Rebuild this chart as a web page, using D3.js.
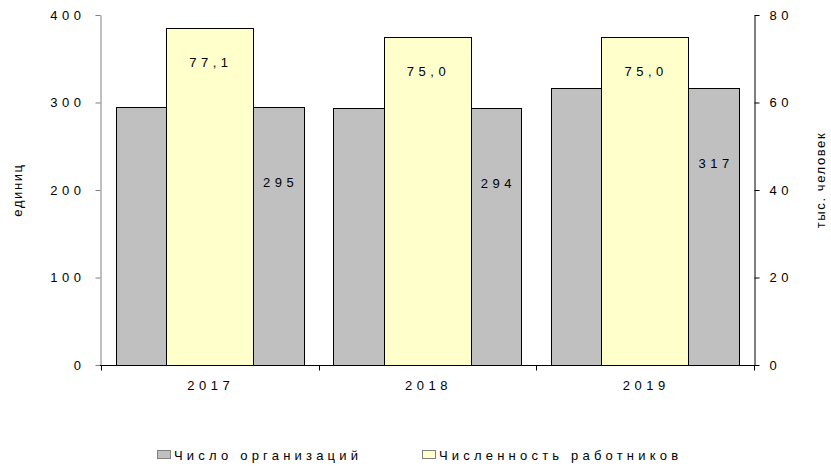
<!DOCTYPE html>
<html lang="ru">
<head>
    <meta charset="UTF-8">
    <title>Организации и работники</title>
    <script src="https://d3js.org/d3.v7.min.js"></script>
    <style>
        body{
            margin: 0;
            background: #ffffff;
        }
        #canvas{
            display: block;
            font-family: Arial, "Liberation Sans", sans-serif;
        }
        .num{
            font-size: 13px;
            letter-spacing: 4.5px;
            fill: #000;
        }
        .title{
            font-size: 13px;
            letter-spacing: 1.6px;
            fill: #000;
        }
        .legend text{
            font-size: 13px;
            letter-spacing: 4.2px;
            fill: #000;
        }
    </style>
</head>
<body>

<svg id="canvas" width="831" height="466"></svg>

<script>
    // data
    let years = ["2017", "2018", "2019"]
    let orgs = [295, 294, 317]              // число организаций, единиц
    let workers = [77.1, 75.0, 75.0]        // численность работников, тыс. человек
    let leftTicks = [0, 100, 200, 300, 400]
    let rightTicks = [0, 20, 40, 60, 80]
    let seriesNames = ["Число организаций", "Численность работников"]

    let grey_color = "#c0c0c0"
    let yellow_color = "#ffffcc"

    let svg = d3.select('#canvas')
    let plotLeft = 101, plotRight = 754, plotTop = 15, plotBottom = 365

    let x = d3.scaleBand().domain(years).range([plotLeft, plotRight])
        .paddingInner(0.136).paddingOuter(0.068)
    let yL = d3.scaleLinear().domain([0, 400]).range([plotBottom, plotTop])
    let yR = d3.scaleLinear().domain([0, 80]).range([plotBottom, plotTop])
    let bw = x.bandwidth()
    let yw = bw * 0.465
    let fmt = d3.format(".1f")

    // bars
    svg.append('g').selectAll('rect')
        .data(years)
        .enter()
        .append('rect')
        .attr("x", d => Math.round(x(d)) + 0.5)
        .attr("y", (d, i) => Math.round(yL(orgs[i])) + 0.5)
        .attr("width", Math.round(bw))
        .attr("height", (d, i) => plotBottom - Math.round(yL(orgs[i])))
        .attr("fill", grey_color)
        .attr("stroke", "#000")
        .attr("stroke-width", 1)

    svg.append('g').selectAll('rect')
        .data(years)
        .enter()
        .append('rect')
        .attr("x", d => Math.round(x(d) + (bw - yw) / 2) + 0.5)
        .attr("y", (d, i) => Math.round(yR(workers[i])) + 0.5)
        .attr("width", Math.round(yw))
        .attr("height", (d, i) => plotBottom - Math.round(yR(workers[i])))
        .attr("fill", yellow_color)
        .attr("stroke", "#000")
        .attr("stroke-width", 1)

    // value labels
    svg.append('g').selectAll('text')
        .data(years)
        .enter()
        .append('text')
        .attr("class", "num")
        .attr("text-anchor", "middle")
        .attr("x", d => x(d) + bw / 2 + 1)
        .attr("y", (d, i) => yR(workers[i]) + 35)
        .attr("dy", "0.35em")
        .text((d, i) => fmt(workers[i]).replace(".", ","))

    svg.append('g').selectAll('text')
        .data(years)
        .enter()
        .append('text')
        .attr("class", "num")
        .attr("text-anchor", "middle")
        .attr("x", d => x(d) + bw - (bw - yw) / 4 + 2)
        .attr("y", (d, i) => yL(orgs[i]) + 76)
        .attr("dy", "0.35em")
        .text((d, i) => orgs[i])

    // axes
    let leftAxis = svg.append('g')
        .attr("transform", `translate(${plotLeft - 0.5},0)`)
        .call(d3.axisLeft(yL).tickValues(leftTicks).tickSize(5).tickPadding(10).tickSizeOuter(0))
    leftAxis.select(".domain").attr("stroke", "#808080")
    leftAxis.selectAll(".tick line").attr("stroke", "#808080")

    let rightAxis = svg.append('g')
        .attr("transform", `translate(${plotRight + 0.5},0)`)
        .call(d3.axisRight(yR).tickValues(rightTicks).tickSize(5).tickPadding(10).tickSizeOuter(0))

    svg.selectAll(".tick text").attr("class", "num")
    leftAxis.attr("font-family", null).attr("font-size", null)
    rightAxis.attr("font-family", null).attr("font-size", null)

    // x axis with ticks between categories
    let xAxis = svg.append('g').attr("transform", `translate(0,${plotBottom + 0.5})`)
    xAxis.append("line")
        .attr("x1", plotLeft - 1).attr("x2", plotRight + 1)
        .attr("stroke", "#000")
    xAxis.selectAll("line.sep")
        .data(d3.range(years.length + 1))
        .enter()
        .append("line")
        .attr("class", "sep")
        .attr("x1", i => Math.round(plotLeft + i * x.step()) + 0.5)
        .attr("x2", i => Math.round(plotLeft + i * x.step()) + 0.5)
        .attr("y1", 0).attr("y2", 5)
        .attr("stroke", "#000")
    xAxis.selectAll("text")
        .data(years)
        .enter()
        .append("text")
        .attr("class", "num")
        .attr("text-anchor", "middle")
        .attr("x", d => x(d) + bw / 2 + 1)
        .attr("y", 20)
        .attr("dy", "0.35em")
        .text(d => d)

    // axis titles
    svg.append("text")
        .attr("class", "title")
        .attr("text-anchor", "middle")
        .attr("transform", "translate(17,190) rotate(-90)")
        .attr("dy", "0.35em")
        .text("единиц")
    svg.append("text")
        .attr("class", "title")
        .attr("text-anchor", "middle")
        .attr("transform", "translate(820,180) rotate(-90)")
        .attr("dy", "0.35em")
        .text("тыс. человек")

    // legend
    let legend = svg.append("g").attr("class", "legend")
    let legendX = [157, 422]
    let legendItems = legend.selectAll("g")
        .data(seriesNames)
        .enter()
        .append("g")
        .attr("transform", (d, i) => `translate(${legendX[i]},450)`)
    legendItems.append("rect")
        .attr("x", 0.5).attr("y", 0.5)
        .attr("width", 13).attr("height", 8)
        .attr("fill", (d, i) => i === 0 ? grey_color : yellow_color)
        .attr("stroke", "#808080")
    legendItems.append("text")
        .attr("x", 17)
        .attr("y", 5)
        .attr("dy", "0.35em")
        .text(d => d)
</script>
</body>
</html>
